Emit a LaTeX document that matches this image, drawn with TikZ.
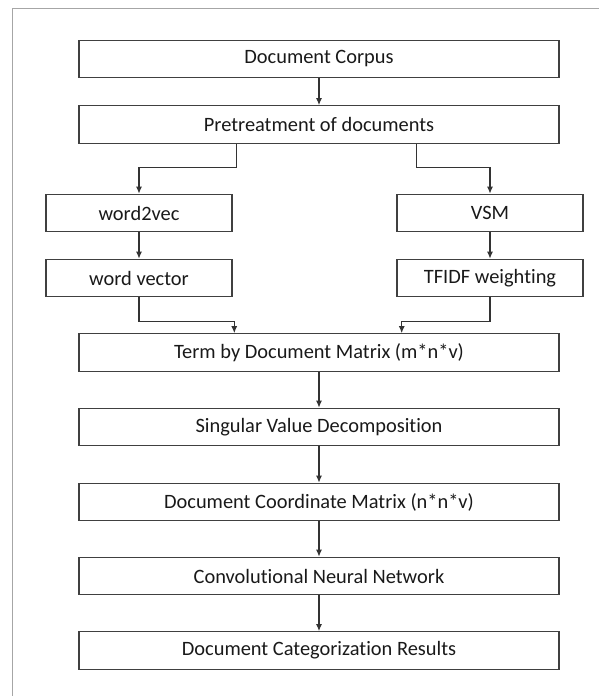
\documentclass[tikz,border=0pt]{standalone}
\usepackage{fontspec}
\setmainfont{Carlito}[Ligatures={NoCommon,NoRare}]
\usepackage{tikz}
\usetikzlibrary{arrows.meta}

\begin{document}
\begin{tikzpicture}[x=1pt,y=-1pt,>={Latex[length=7pt,width=6pt]},
	box/.style = {draw=black!75,line width=1.2pt,minimum height=37.5pt,inner sep=0pt,text=black!90,font=\fontsize{20.4}{24}\selectfont},
	wide/.style = {box,minimum width=480pt},
	small/.style = {box,minimum width=186pt},
	link/.style = {->,draw=black!80,line width=1.1pt}
	]
	\useasboundingbox (0,0) rectangle (599,696);
	%CORNICE
	\draw[black!35, line width=0.9pt] (12.5,696) -- (12.5,8) -- (599,8);
	%BLOCCHI PRINCIPALI
	\node[wide] (corpus) at (319,59) {Document Corpus};
	\node[wide] (pre) at (319,124.5) {Pretreatment of documents};
	%RAMO SINISTRO
	\node[small] (w2v) at (139,213) {word2vec};
	\node[small] (wvec) at (139,278) {word vector};
	%RAMO DESTRO
	\node[small] (vsm) at (490,213) {VSM};
	\node[small] (tfidf) at (490,278) {TFIDF weighting};
	%MATRICI E RETE
	\node[wide] (term) at (319,352.5) {Term by Document Matrix (m*n*v)};
	\node[wide] (svd) at (319,427) {Singular Value Decomposition};
	\node[wide] (coord) at (319,502) {Document Coordinate Matrix (n*n*v)};
	\node[wide] (cnn) at (319,576) {Convolutional Neural Network};
	\node[wide] (res) at (319,650.5) {Document Categorization Results};
	%FRECCE
	\draw[link] (corpus) -- (pre);
	\draw[link] ([xshift=-82.3pt]pre.south) -- ++(0,23.3) -| (w2v.north);
	\draw[link] ([xshift=97.7pt]pre.south) -- ++(0,23.3) -| (vsm.north);
	\draw[link] (w2v) -- (wvec);
	\draw[link] (vsm) -- (tfidf);
	\draw[link] (wvec.south) -- ++(0,24.3) -| ([xshift=-84.7pt]term.north);
	\draw[link] (tfidf.south) -- ++(0,24.3) -| ([xshift=82.7pt]term.north);
	\draw[link] (term) -- (svd);
	\draw[link] (svd) -- (coord);
	\draw[link] (coord) -- (cnn);
	\draw[link] (cnn) -- (res);
\end{tikzpicture}
\end{document}
